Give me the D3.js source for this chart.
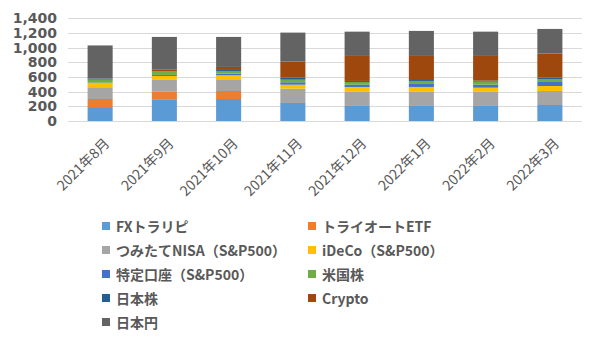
<!DOCTYPE html>
<html><head><meta charset="utf-8">
<script src="https://cdn.jsdelivr.net/npm/d3@7"></script>
<style>html,body{margin:0;padding:0;background:#fff;}svg{display:block;}</style>
</head><body>
<script>
const categories = ["2021年8月","2021年9月","2021年10月","2021年11月","2021年12月","2022年1月","2022年2月","2022年3月"];
const seriesNames = ["FXトラリピ","トライオートETF","つみたてNISA（S&P500）","iDeCo（S&P500）","特定口座（S&P500）","米国株","日本株","Crypto","日本円"];
const fxTorarip   = [190, 288, 300, 246, 205, 205, 205, 218];
const triautoEtf  = [110, 110, 109,   0,   0,   0,   0,   0];
const tsumitate   = [160, 162, 160, 195, 191, 191, 191, 191];
const ideco       = [ 58,  54,  54,  54,  68,  68,  58,  68];
const tokutei     = [  4,  14,  22,  33,  31,  41,  41,  55];
const usStock     = [ 42,  45,  37,  35,  37,  41,  41,  41];
const jpStock     = [ 14,   4,  14,  28,  14,  13,  14,  18];
const crypto      = [  0,  27,  41, 218, 341, 328, 337, 327];
const jpy         = [452, 442, 409, 396, 331, 341, 331, 337];
const yTicks = [0,200,400,600,800,1000,1200,1400];
const colors = ["#5B9BD5","#ED7D31","#A5A5A5","#FFC000","#4472C4","#70AD47","#255E91","#9E480E","#636363"];

const seriesValues = [fxTorarip, triautoEtf, tsumitate, ideco, tokutei, usStock, jpStock, crypto, jpy];
const rows = categories.map((c,i)=>{const r={cat:c}; seriesNames.forEach((s,j)=>r[s]=seriesValues[j][i]); return r;});

const W=600,H=346;
const svg=d3.select("body").append("svg").attr("width",W).attr("height",H);
const x=d3.scaleBand().domain(categories).range([68,582]).paddingInner(0.61).paddingOuter(0.305);
const y=d3.scaleLinear().domain([0,1400]).range([121,18.3]);

const textColor="#595959";
// gridlines
svg.append("g").selectAll("line").data(yTicks).join("line")
  .attr("x1",68).attr("x2",582)
  .attr("y1",d=>Math.round(y(d))+0.5).attr("y2",d=>Math.round(y(d))+0.5)
  .attr("stroke","#D9D9D9").attr("stroke-width",1);

// y axis labels
const yAxis=d3.axisLeft(y).tickValues(yTicks).tickFormat(d3.format(",")).tickSize(0).tickPadding(0);
const ya=svg.append("g").attr("transform","translate(57,0)").call(yAxis);
ya.select(".domain").remove();
ya.selectAll("text").attr("fill",textColor).style("font-family","'DejaVu Sans',sans-serif").style("font-weight","bold").style("font-size","14px");

// bars
const stack=d3.stack().keys(seriesNames)(rows);
svg.append("g").selectAll("g").data(stack).join("g").attr("fill",(d,i)=>colors[i])
  .selectAll("rect").data(d=>d).join("rect")
  .attr("x",d=>x(d.data.cat)).attr("width",x.bandwidth())
  .attr("y",d=>y(d[1])).attr("height",d=>Math.max(0,y(d[0])-y(d[1])));

// x axis labels
const xAxis=d3.axisBottom(x).tickSize(0).tickPadding(0);
const xa=svg.append("g").attr("transform","translate(0,121)").call(xAxis);
xa.select(".domain").remove();
xa.selectAll("text")
  .attr("fill",textColor)
  .style("font-family","'Noto Sans CJK JP','DejaVu Sans',sans-serif").style("font-size","14px")
  .attr("text-anchor","end").attr("dy",null).attr("y",0)
  .attr("transform","translate(6,19) rotate(-45)").attr("dominant-baseline","central");

// legend
const leg=svg.append("g");
seriesNames.forEach((s,i)=>{
  const col=i%2,row=Math.floor(i/2);
  const gx=col===0?102:308, gy=226+row*24;
  const g=leg.append("g").attr("transform",`translate(${gx},${gy})`);
  g.append("rect").attr("x",0).attr("y",-4).attr("width",8).attr("height",8).attr("fill",colors[i]);
  g.append("text").attr("x",14).attr("y",0).attr("dominant-baseline","central")
    .attr("fill",textColor).style("font-family","'Noto Sans CJK JP',sans-serif").style("font-weight","bold").style("font-size","14px").text(s);
});
</script>
</body></html>
